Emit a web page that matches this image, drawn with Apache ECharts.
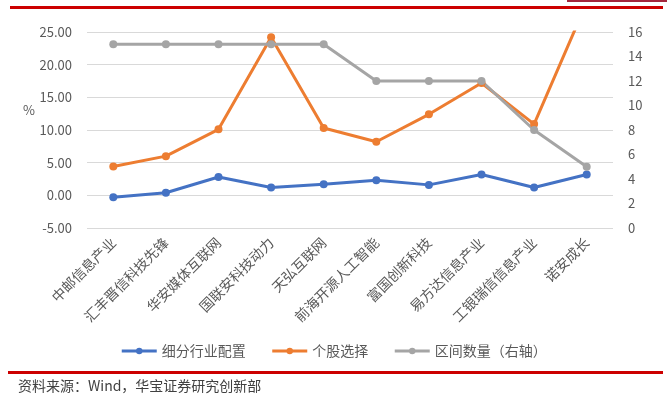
<!DOCTYPE html>
<html>
<head>
<meta charset="utf-8">
<script src="https://cdn.jsdelivr.net/npm/echarts@6/dist/echarts.min.js"></script>
<style>
  html, body { margin: 0; padding: 0; background: #fff; }
  #main { width: 667px; height: 399px; }
</style>
</head>
<body>
<div id="main"></div>
<script type="text/javascript">
// 数据
var categories = ['中邮信息产业', '汇丰晋信科技先锋', '华安媒体互联网', '国联安科技动力', '天弘互联网',
  '前海开源人工智能', '富国创新科技', '易方达信息产业', '工银瑞信信息产业', '诺安成长'];
var industryAlloc = [-0.3, 0.4, 2.8, 1.2, 1.7, 2.3, 1.6, 3.2, 1.2, 3.2];   // 细分行业配置 (%)
var stockSelect = [4.4, 6.0, 10.1, 24.2, 10.3, 8.2, 12.4, 17.2, 10.9, 29.5]; // 个股选择 (%)
var intervalCount = [15, 15, 15, 15, 15, 12, 12, 12, 8, 5];                  // 区间数量 (右轴)
var seriesNames = ['细分行业配置', '个股选择', '区间数量（右轴）'];

var myChart = echarts.init(document.getElementById('main'));

var labelColor = '#595959';
var fontFamily = '"Noto Sans CJK SC", "Noto Sans", sans-serif';

function lineSeries(name, data, color, yIndex) {
  return {
    name: name,
    type: 'line',
    yAxisIndex: yIndex,
    data: data,
    symbol: 'circle',
    symbolSize: 8,
    lineStyle: { color: color, width: 3 },
    itemStyle: { color: color },
    clip: true
  };
}

var option = {
  backgroundColor: '#fff',
  animation: false,
  textStyle: { fontFamily: fontFamily },
  grid: { left: 87, right: 54, top: 32, bottom: 171 },
  legend: {
    bottom: 36,
    left: 'center',
    itemWidth: 35,
    itemHeight: 8,
    itemGap: 25,
    lineStyle: { width: 3 },
    textStyle: { color: labelColor, fontSize: 14 },
    data: seriesNames
  },
  xAxis: {
    type: 'category',
    data: categories,
    boundaryGap: true,
    axisLine: { show: false },
    axisTick: { show: false },
    axisLabel: { rotate: 45, interval: 0, color: labelColor, fontSize: 14, margin: 12 }
  },
  yAxis: [{
    type: 'value',
    min: -5, max: 25, interval: 5,
    axisLine: { show: false },
    axisTick: { show: false },
    axisLabel: { color: labelColor, fontSize: 13, margin: 15,
      formatter: function (v) { return v.toFixed(2); } },
    splitLine: { lineStyle: { color: '#d9d9d9', width: 1 } }
  }, {
    type: 'value',
    min: 0, max: 16, interval: 2,
    axisLine: { show: false },
    axisTick: { show: false },
    axisLabel: { color: labelColor, fontSize: 13, margin: 15 },
    splitLine: { show: false }
  }],
  series: [
    lineSeries(seriesNames[0], industryAlloc, '#4472c4', 0),
    lineSeries(seriesNames[1], stockSelect, '#ed7d31', 0),
    lineSeries(seriesNames[2], intervalCount, '#a5a5a5', 1)
  ],
  graphic: [
    { type: 'rect', shape: { x: 567, y: 0, width: 100, height: 2 }, style: { fill: '#a3263c' } },
    { type: 'rect', shape: { x: 10, y: 6, width: 653, height: 3 }, style: { fill: '#cc0000' } },
    { type: 'rect', shape: { x: 8, y: 371, width: 655, height: 3 }, style: { fill: '#cc0000' } },
    { type: 'text', left: 23, top: 104, style: { text: '%', fill: labelColor, fontSize: 13, fontFamily: fontFamily } },
    { type: 'text', left: 18, top: 379, style: { text: '资料来源：Wind，华宝证券研究创新部', fill: '#404040', fontSize: 14, fontFamily: fontFamily } }
  ]
};

myChart.setOption(option);
</script>
</body>
</html>
